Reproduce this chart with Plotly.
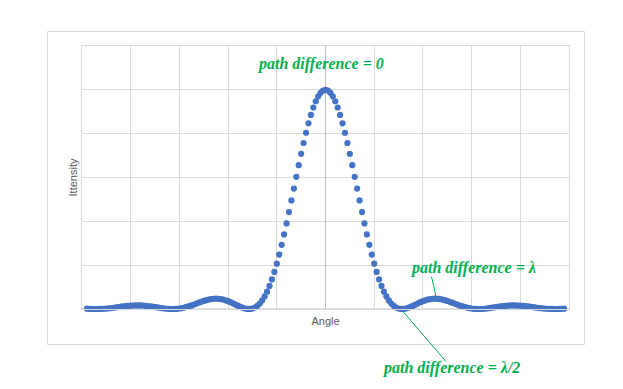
import plotly.graph_objects as go

angle = [
    -0.98, -0.97, -0.96, -0.95, -0.94, -0.93, -0.92, -0.91, -0.90, -0.89,
    -0.88, -0.87, -0.86, -0.85, -0.84, -0.83, -0.82, -0.81, -0.80, -0.79,
    -0.78, -0.77, -0.76, -0.75, -0.74, -0.73, -0.72, -0.71, -0.70, -0.69,
    -0.68, -0.67, -0.66, -0.65, -0.64, -0.63, -0.62, -0.61, -0.60, -0.59,
    -0.58, -0.57, -0.56, -0.55, -0.54, -0.53, -0.52, -0.51, -0.50, -0.49,
    -0.48, -0.47, -0.46, -0.45, -0.44, -0.43, -0.42, -0.41, -0.40, -0.39,
    -0.38, -0.37, -0.36, -0.35, -0.34, -0.33, -0.32, -0.31, -0.30, -0.29,
    -0.28, -0.27, -0.26, -0.25, -0.24, -0.23, -0.22, -0.21, -0.20, -0.19,
    -0.18, -0.17, -0.16, -0.15, -0.14, -0.13, -0.12, -0.11, -0.10, -0.09,
    -0.08, -0.07, -0.06, -0.05, -0.04, -0.03, -0.02, -0.01,
    0.00,
    0.01, 0.02, 0.03, 0.04, 0.05, 0.06, 0.07, 0.08, 0.09, 0.10,
    0.11, 0.12, 0.13, 0.14, 0.15, 0.16, 0.17, 0.18, 0.19, 0.20,
    0.21, 0.22, 0.23, 0.24, 0.25, 0.26, 0.27, 0.28, 0.29, 0.30,
    0.31, 0.32, 0.33, 0.34, 0.35, 0.36, 0.37, 0.38, 0.39, 0.40,
    0.41, 0.42, 0.43, 0.44, 0.45, 0.46, 0.47, 0.48, 0.49, 0.50,
    0.51, 0.52, 0.53, 0.54, 0.55, 0.56, 0.57, 0.58, 0.59, 0.60,
    0.61, 0.62, 0.63, 0.64, 0.65, 0.66, 0.67, 0.68, 0.69, 0.70,
    0.71, 0.72, 0.73, 0.74, 0.75, 0.76, 0.77, 0.78, 0.79, 0.80,
    0.81, 0.82, 0.83, 0.84, 0.85, 0.86, 0.87, 0.88, 0.89, 0.90,
    0.91, 0.92, 0.93, 0.94, 0.95, 0.96, 0.97, 0.98,
]

intensity = [
    0.0014, 0.0008, 0.0003, 0.0001, 0.0000, 0.0002, 0.0006, 0.0012, 0.0021, 0.0032,
    0.0044, 0.0058, 0.0073, 0.0088, 0.0104, 0.0118, 0.0132, 0.0143, 0.0153, 0.0160,
    0.0164, 0.0165, 0.0162, 0.0156, 0.0147, 0.0136, 0.0122, 0.0105, 0.0088, 0.0070,
    0.0053, 0.0037, 0.0022, 0.0011, 0.0003, 0.0000, 0.0002, 0.0009, 0.0022, 0.0040,
    0.0064, 0.0093, 0.0127, 0.0165, 0.0205, 0.0247, 0.0289, 0.0330, 0.0368, 0.0402,
    0.0431, 0.0453, 0.0467, 0.0472, 0.0468, 0.0454, 0.0431, 0.0398, 0.0358, 0.0311,
    0.0259, 0.0205, 0.0151, 0.0100, 0.0056, 0.0023, 0.0003, 0.0002, 0.0022, 0.0068,
    0.0143, 0.0251, 0.0393, 0.0573, 0.0792, 0.1051, 0.1351, 0.1690, 0.2067, 0.2481,
    0.2927, 0.3403, 0.3903, 0.4422, 0.4955, 0.5494, 0.6033, 0.6564, 0.7081, 0.7575,
    0.8041, 0.8470, 0.8856, 0.9194, 0.9478, 0.9704, 0.9867, 0.9967,
    1.0000,
    0.9967, 0.9867, 0.9704, 0.9478, 0.9194, 0.8856, 0.8470, 0.8041, 0.7575, 0.7081,
    0.6564, 0.6033, 0.5494, 0.4955, 0.4422, 0.3903, 0.3403, 0.2927, 0.2481, 0.2067,
    0.1690, 0.1351, 0.1051, 0.0792, 0.0573, 0.0393, 0.0251, 0.0143, 0.0068, 0.0022,
    0.0002, 0.0003, 0.0023, 0.0056, 0.0100, 0.0151, 0.0205, 0.0259, 0.0311, 0.0358,
    0.0398, 0.0431, 0.0454, 0.0468, 0.0472, 0.0467, 0.0453, 0.0431, 0.0402, 0.0368,
    0.0330, 0.0289, 0.0247, 0.0205, 0.0165, 0.0127, 0.0093, 0.0064, 0.0040, 0.0022,
    0.0009, 0.0002, 0.0000, 0.0003, 0.0011, 0.0022, 0.0037, 0.0053, 0.0070, 0.0088,
    0.0105, 0.0122, 0.0136, 0.0147, 0.0156, 0.0162, 0.0165, 0.0164, 0.0160, 0.0153,
    0.0143, 0.0132, 0.0118, 0.0104, 0.0088, 0.0073, 0.0058, 0.0044, 0.0032, 0.0021,
    0.0012, 0.0006, 0.0002, 0.0000, 0.0001, 0.0003, 0.0008, 0.0014,
]

assert len(angle) == len(intensity), (len(angle), len(intensity))

x_title = "Angle"
y_title = "Ittensity"
labels = ["path difference = 0", "path difference = λ", "path difference = λ/2"]

GREEN = "#00B050"
GRID = "#D9D9D9"
AXIS = "#BFBFBF"

fig = go.Figure()
fig.add_trace(go.Scatter(
    x=angle, y=intensity, mode="markers",
    marker=dict(size=6.2, color="#4472C4", line=dict(width=0)),
    hoverinfo="x+y", showlegend=False, cliponaxis=False,
))

# plot area in pixels: x 82..569, y 46..309
L, R, T, B = 82, 569, 46, 309
W, H = R - L, B - T


def px(xp):
    return (xp - L) / W


def py(yp):
    return (B - yp) / H


shapes = [
    # outer chart border
    dict(type="rect", xref="paper", yref="paper",
         x0=px(47.5), x1=px(584.5), y0=py(344.5), y1=py(31.5),
         line=dict(color=GRID, width=1), layer="below"),
    # leader line for λ
    dict(type="line", xref="paper", yref="paper",
         x0=px(431.5), y0=py(276.5), x1=px(436), y1=py(297),
         line=dict(color=GREEN, width=1)),
    # leader line for λ/2
    dict(type="line", xref="paper", yref="paper",
         x0=px(403), y0=py(311.5), x1=px(446), y1=py(361.5),
         line=dict(color=GREEN, width=1)),
]

afont = dict(family="Liberation Serif", size=16, color=GREEN, weight="bold", style="italic")
annotations = [
    dict(x=px(320.5), y=py(64), xref="paper", yref="paper", text=labels[0],
         showarrow=False, font=afont, xanchor="center", yanchor="middle"),
    dict(x=px(473), y=py(267.5), xref="paper", yref="paper", text=labels[1],
         showarrow=False, font=afont, xanchor="center", yanchor="middle"),
    dict(x=px(451), y=py(368), xref="paper", yref="paper", text=labels[2],
         showarrow=False, font=afont, xanchor="center", yanchor="middle"),
]

tfont = dict(family="Liberation Sans", size=11, color="#595959")

fig.update_layout(
    width=623, height=389,
    margin=dict(l=L, r=623 - R, t=T, b=389 - B),
    paper_bgcolor="white", plot_bgcolor="white",
    shapes=shapes, annotations=annotations,
    xaxis=dict(range=[-1, 1], dtick=0.2, tick0=-1, showgrid=True, gridcolor=GRID, gridwidth=1,
               showticklabels=False, ticks="", zeroline=True, zerolinecolor=AXIS, zerolinewidth=1,
               showline=True, linecolor=GRID, linewidth=1, mirror=True,
               title=dict(text=x_title, font=tfont, standoff=8), fixedrange=True),
    yaxis=dict(range=[0, 1.2], dtick=0.2, tick0=0, showgrid=True, gridcolor=GRID, gridwidth=1,
               showticklabels=False, ticks="", zeroline=False,
               showline=True, linecolor=GRID, linewidth=1, mirror=True,
               title=dict(text=y_title, font=tfont, standoff=1), fixedrange=True),
    font=tfont,
)
# darker horizontal axis at y = 0
fig.add_shape(type="line", xref="paper", yref="y", x0=0, x1=1, y0=0, y1=0,
              line=dict(color=AXIS, width=1), layer="below")

fig.write_html("out.html")
